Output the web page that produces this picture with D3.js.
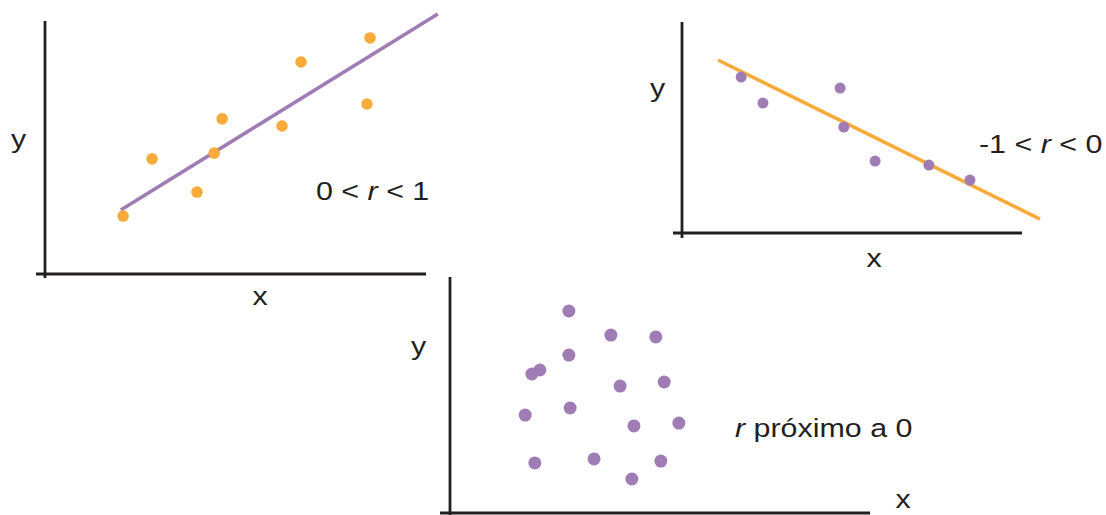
<!DOCTYPE html>
<html>
<head>
<meta charset="utf-8">
<script src="https://cdn.jsdelivr.net/npm/d3@7"></script>
<style>
  body { margin: 0; background: #fff; }
  text { font-family: "Liberation Sans", Arial, sans-serif; fill: #231f20; }
</style>
</head>
<body>
<svg id="chart" width="1106" height="515"></svg>
<script>
const width = 1106, height = 515;

// panel 1: positive correlation (0 < r < 1)
const posX = [2.05, 2.81, 3.99, 4.44, 4.65, 6.22, 6.72, 8.45, 8.53];
const posY = [2.29, 4.55, 3.24, 4.78, 6.13, 5.85, 8.38, 6.72, 9.33];
const posLineX = [1.99, 10.31];
const posLineY = [2.53, 10.28];

// panel 2: negative correlation (-1 < r < 0)
const negX = [1.74, 2.38, 4.65, 4.76, 5.68, 7.26, 8.47];
const negY = [7.39, 6.16, 6.87, 5.02, 3.41, 3.22, 2.51];
const negLineX = [1.06, 10.53];
const negLineY = [8.20, 0.66];

// panel 3: no correlation (r ~ 0)
const zeroX = [2.83, 3.83, 4.90, 2.83, 1.95, 2.14, 4.05, 5.10, 1.79, 2.86, 4.38, 5.45, 2.02, 3.43, 5.02, 4.33];
const zeroY = [8.56, 7.54, 7.46, 6.69, 5.89, 6.06, 5.38, 5.55, 4.15, 4.45, 3.69, 3.81, 2.12, 2.29, 2.20, 1.44];

const orange = "#f8ab3b";
const purple = "#9f7cb3";
const ink = "#231f20";

const svg = d3.select("#chart");
svg.append("rect").attr("width", width).attr("height", height).attr("fill", "#fff");

function drawPanel(p) {
  const x = d3.scaleLinear().domain([0, 10]).range(p.xRange);
  const y = d3.scaleLinear().domain([0, 10]).range(p.yRange);
  const g = svg.append("g");

  /* ------- AXES -------*/
  g.append("line")
    .attr("x1", x(0)).attr("x2", x(0))
    .attr("y1", y(10)).attr("y2", y(0) + p.over[1])
    .attr("stroke", ink).attr("stroke-width", 2.8);
  g.append("line")
    .attr("x1", x(0) - p.over[0]).attr("x2", x(10))
    .attr("y1", y(0)).attr("y2", y(0))
    .attr("stroke", ink).attr("stroke-width", 2.8);

  /* ------- TREND LINE -------*/
  if (p.lineX) {
    const pts = p.lineX.map((v, i) => [v, p.lineY[i]]);
    g.append("path")
      .datum(pts)
      .attr("d", d3.line().x(d => x(d[0])).y(d => y(d[1])))
      .attr("fill", "none")
      .attr("stroke", p.lineColor)
      .attr("stroke-width", 3.5);
  }

  /* ------- DOTS -------*/
  g.selectAll("circle")
    .data(p.xs.map((v, i) => ({ x: v, y: p.ys[i] })))
    .enter()
    .append("circle")
    .attr("cx", d => x(d.x))
    .attr("cy", d => y(d.y))
    .attr("r", p.r)
    .attr("fill", p.dotColor);

  /* ------- LABELS -------*/
  const lab = (tx, ty) => g.append("text")
    .attr("transform", `translate(${tx},${ty}) scale(1.17,1)`)
    .attr("font-size", 26);
  lab(p.yLab[0], p.yLab[1]).text("y");
  lab(p.xLab[0], p.xLab[1]).attr("text-anchor", "middle").text("x");

  const t = lab(p.rLab[0], p.rLab[1]);
  p.rText.forEach(part => {
    t.append("tspan")
      .attr("font-style", part.i ? "italic" : null)
      .text(part.s);
  });
}

drawPanel({
  xRange: [45, 426], yRange: [274, 21], over: [9, 4],
  xs: posX, ys: posY, lineX: posLineX, lineY: posLineY,
  dotColor: orange, lineColor: purple, r: 5.8,
  yLab: [11, 148], xLab: [260, 305], rLab: [316, 200],
  rText: [{ s: "0 < " }, { s: "r", i: true }, { s: " < 1" }]
});

drawPanel({
  xRange: [682, 1022], yRange: [233, 22], over: [9, 5],
  xs: negX, ys: negY, lineX: negLineX, lineY: negLineY,
  dotColor: purple, lineColor: orange, r: 5.5,
  yLab: [650, 97], xLab: [874, 267], rLab: [979, 153],
  rText: [{ s: "-1 < " }, { s: "r", i: true }, { s: " < 0" }]
});

drawPanel({
  xRange: [450, 870], yRange: [513, 277], over: [10, 4],
  xs: zeroX, ys: zeroY,
  dotColor: purple, r: 6.5,
  yLab: [411, 355], xLab: [903, 508], rLab: [735, 437],
  rText: [{ s: "r", i: true }, { s: " próximo a 0" }]
});
</script>
</body>
</html>
